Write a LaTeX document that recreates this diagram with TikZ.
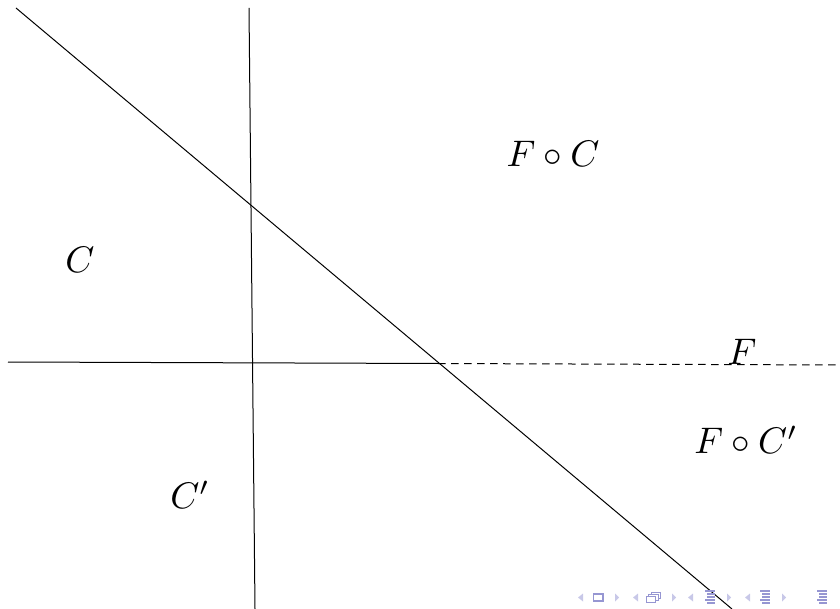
\documentclass[tikz,border=0pt]{standalone}
\begin{document}
\begin{tikzpicture}[x=1pt,y=-1pt,
  ln/.style={line width=1pt, black},
  lbl/.style={inner sep=0pt, scale=3.7},
  navtri/.style={fill={rgb,255:red,200;green,200;blue,232}, draw=none},
  navicon/.style={draw={rgb,255:red,150;green,150;blue,210}, line width=1.2pt},
  navfill/.style={fill={rgb,255:red,150;green,150;blue,210}, draw=none}]
\path[use as bounding box] (0,0) rectangle (840,609);
% coordinates
\coordinate (dA) at (16,8);
\coordinate (dB) at (732,609);
\coordinate (vA) at (249,8);
\coordinate (vB) at (255,609);
\coordinate (hA) at (8,362);
\coordinate (hM) at (438,363.5);
\coordinate (hB) at (840,365);
% lines
\draw[ln] (dA) -- (dB);
\draw[ln] (vA) -- (vB);
\draw[ln] (hA) -- (hM);
\draw[ln, dash pattern=on 7.5pt off 5.5pt] (hM) -- (hB);
% labels
\node[lbl] (c) at (80,260) {$C$};
\node[lbl] (fc) at (553,154) {$F\circ C$};
\node[lbl] (cp) at (190,495) {$C'$};
\node[lbl] (f) at (742,352) {$F$};
\node[lbl] (fcp) at (746,440) {$F\circ C'$};
% navigation symbols
\foreach \x in {578,633,688,745}{
  \fill[navtri] (\x,597.5) -- (\x+5,593.5) -- (\x+5,601.5) -- cycle;}
\foreach \x in {615,672,727,782}{
  \fill[navtri] (\x+4,597.5) -- (\x,593.5) -- (\x,601.5) -- cycle;}
\draw[navicon] (593.5,594) rectangle (603,601);
% doc icon (stacked frames)
\draw[navicon, line width=1pt] (651,592) rectangle (660.5,598);
\draw[navicon, line width=1pt, fill=white] (648.5,594) rectangle (658,600);
\draw[navicon, line width=1pt, fill=white] (646,596) rectangle (655.5,602.5);
% section icons
\foreach \x in {705,760,817}{
  \fill[navfill] (\x,590) rectangle (\x+10,591.5);
  \fill[navfill] (\x+2,593) rectangle (\x+10,594.5);
  \fill[navfill] (\x+2,596) rectangle (\x+10,597.5);
  \fill[navfill] (\x,599) rectangle (\x+10,600.5);
  \fill[navfill] (\x+2,602) rectangle (\x+10,603.5);}
\end{tikzpicture}
\end{document}
